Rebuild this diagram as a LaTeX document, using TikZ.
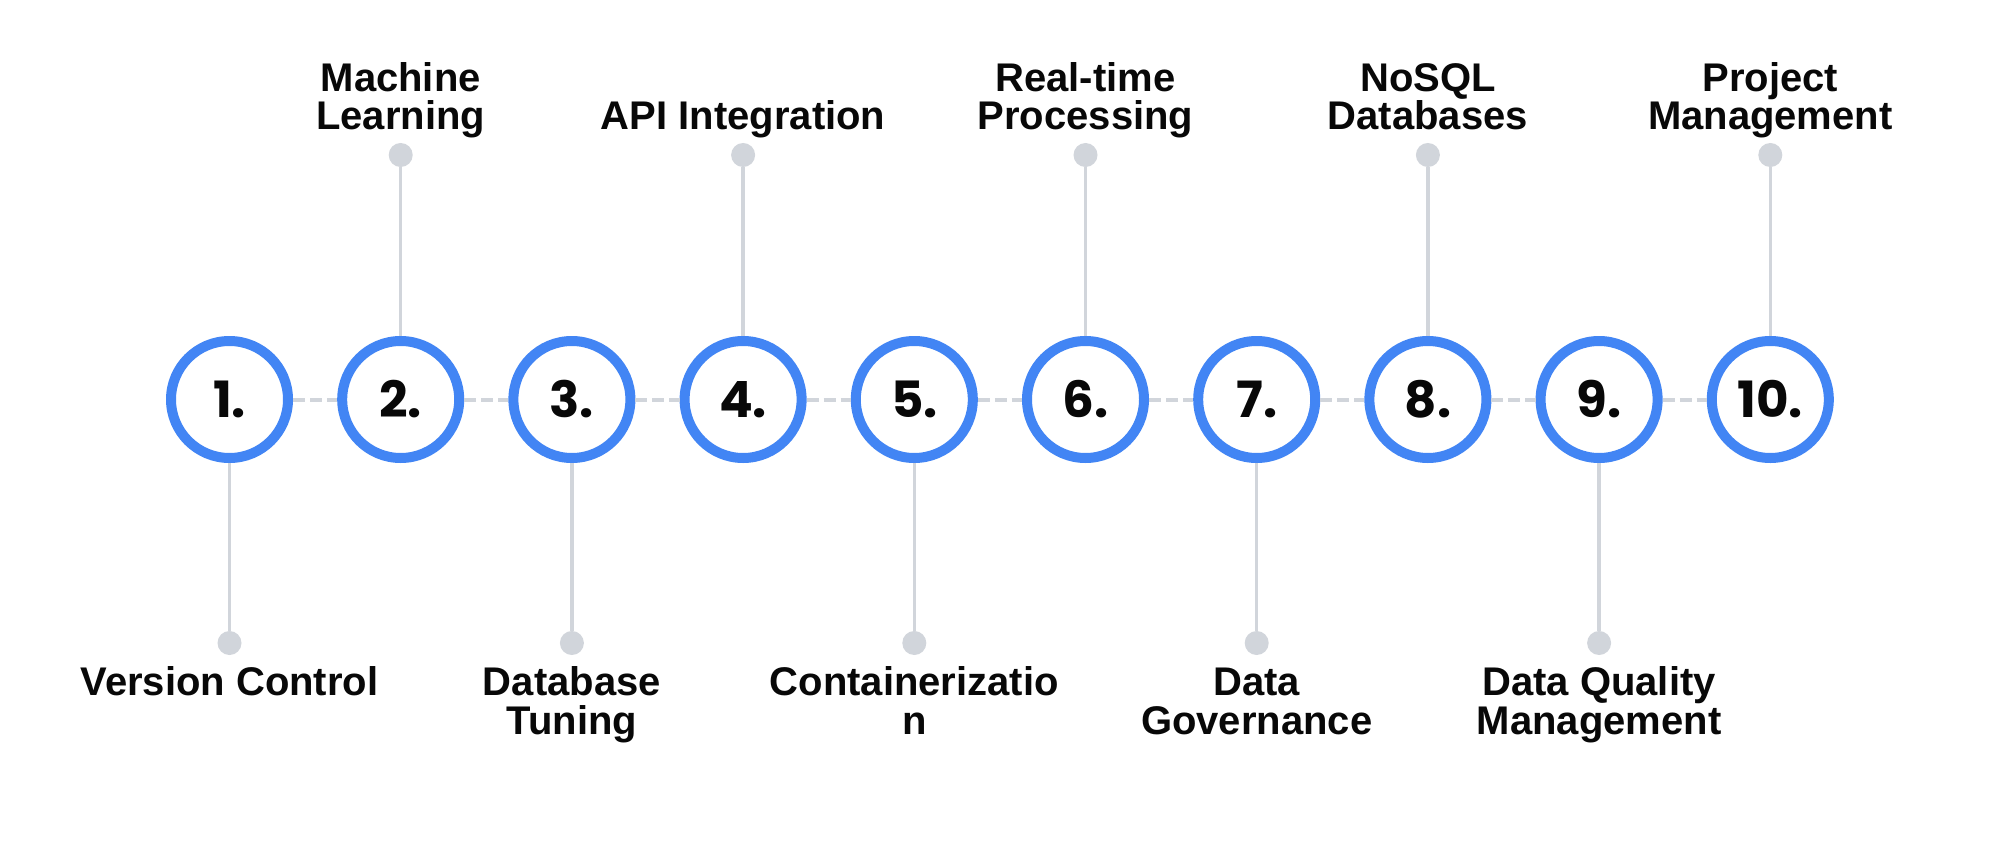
\documentclass[tikz,border=0pt]{standalone}
\usepackage{fontspec}
\newfontfamily\labfont{Liberation Sans}
\newfontfamily\numfont{Poppins}
\definecolor{ringblue}{RGB}{66,133,244}
\definecolor{linegray}{RGB}{209,213,219}
\definecolor{ink}{RGB}{8,8,8}
\newcommand\stacklines[1]{\halign{\hfil##\hfil\cr#1\crcr}}
\tikzset{
  ring/.style={circle, draw=ringblue, line width=10pt, fill=white, minimum size=117pt, inner sep=0pt,
    text=ink, font=\numfont\bfseries\fontsize{50}{50}\selectfont},
  dotnode/.style={circle, fill=linegray, minimum size=24pt, inner sep=0pt},
  vline/.style={draw=linegray, line width=3.5pt},
  dashline/.style={draw=linegray, line width=4pt, dash pattern=on 12pt off 5pt},
  lab/.style={inner sep=0pt, text=ink, font=\labfont\bfseries\fontsize{40}{38.5}\selectfont},
}
\begin{document}
\begin{tikzpicture}[x=1pt,y=-1pt]
\useasboundingbox (0,0) rectangle (2000,848);
\fill[white] (0,0) rectangle (2000,848);
% circles
\foreach \i/\x in {1/229.5,2/400.7,3/571.9,4/743.1,5/914.3,6/1085.5,7/1256.7,8/1427.9,9/1599.1,10/1770.3}{
  \node[ring] (c\i) at (\x,399.5) {\i.};
}
% dashed connectors
\foreach \a/\b in {1/2,2/3,3/4,4/5,5/6,6/7,7/8,8/9,9/10}{
  \draw[dashline] (c\a) -- (c\b);
}
% top dots (even)
\foreach \i/\x in {2/400.7,4/743.1,6/1085.5,8/1427.9,10/1770.3}{
  \node[dotnode] (d\i) at (\x,155) {};
  \draw[vline] (d\i) -- (c\i);
}
% bottom dots (odd)
\foreach \i/\x in {1/229.5,3/571.9,5/914.3,7/1256.7,9/1599.1}{
  \node[dotnode] (d\i) at (\x,643) {};
  \draw[vline] (c\i) -- (d\i);
}
% top labels (last baseline at 130)
\node[lab, anchor=base] (l2) at (400.7,130) {\vbox{\stacklines{Machine\cr Learning}}};
\node[lab, anchor=base] (l4) at (743.1,130) {\vbox{\stacklines{API Integration}}};
\node[lab, anchor=base] (l6) at (1085.5,130) {\vbox{\stacklines{Real-time\cr Processing}}};
\node[lab, anchor=base] (l8) at (1427.9,130) {\vbox{\stacklines{NoSQL\cr Databases}}};
\node[lab, anchor=base] (l10) at (1770.3,130) {\vbox{\stacklines{Project\cr Management}}};
% bottom labels (first baseline at 695.5)
\node[lab, anchor=base] (l1) at (229.5,695.5) {\vtop{\stacklines{Version Control}}};
\node[lab, anchor=base] (l3) at (571.9,695.5) {\vtop{\stacklines{Database\cr Tuning}}};
\node[lab, anchor=base] (l5) at (914.3,695.5) {\vtop{\stacklines{Containerizatio\cr n}}};
\node[lab, anchor=base] (l7) at (1256.7,695.5) {\vtop{\stacklines{Data\cr Governance}}};
\node[lab, anchor=base] (l9) at (1599.1,695.5) {\vtop{\stacklines{Data Quality\cr Management}}};
\end{tikzpicture}
\end{document}
